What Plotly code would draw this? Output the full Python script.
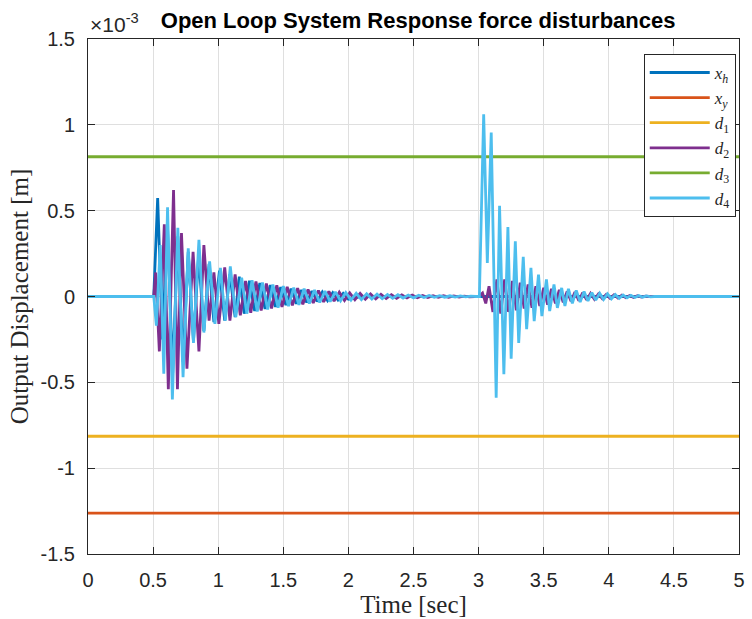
import plotly.graph_objects as go

# ---------------- data (displacement in units of 1e-3 m) ----------------
t_span = [0.0, 5.0]
xy_level = [-1.262, -1.262]
d1_level = [-0.814, -0.814]
d3_level = [0.814, 0.814]

# x_h : extrema
xh_t = [0.0, 0.505, 0.535, 0.572, 0.61, 0.65, 0.69, 0.73, 0.77, 0.81, 0.85, 0.89, 0.93, 0.967,
        1.01, 1.05, 1.09, 1.13, 1.162, 1.20, 1.24, 1.28, 1.32, 1.36, 1.40, 1.44, 1.48, 1.52,
        1.56, 1.60, 1.64, 1.68, 1.72, 1.76, 1.80, 1.84, 1.88, 1.92, 1.96, 2.00, 2.1, 2.3, 5.0]
xh_v = [0.0, 0.0, 0.574, -0.25, 0.42, -0.45, 0.35, -0.38, 0.26, -0.26, 0.24, -0.20, 0.19, -0.15,
        0.15, -0.14, 0.13, -0.12, 0.116, -0.10, 0.092, -0.085, 0.078, -0.072, 0.066, -0.06, 0.055,
        -0.05, 0.046, -0.042, 0.038, -0.035, 0.032, -0.029, 0.026, -0.024, 0.022, -0.02, 0.018,
        -0.016, 0.0, 0.0, 0.0]

# d_2 : extrema
d2_t = [0.0, 0.505, 0.52, 0.548, 0.586, 0.617, 0.657, 0.687, 0.718, 0.76, 0.807, 0.852, 0.89,
        0.93, 0.967, 1.005, 1.05, 1.09, 1.13, 1.17, 1.21, 1.25, 1.29, 1.33, 1.37, 1.41, 1.45,
        1.49, 1.53, 1.57, 1.61, 1.65, 1.69, 1.73, 1.77, 1.81, 1.85, 1.89, 1.93, 1.97, 2.01,
        2.05, 2.09, 2.13, 2.17, 2.21, 2.25, 2.29, 2.33, 2.37, 2.41, 2.45, 2.49, 2.53, 2.57,
        2.61, 2.65, 2.69, 2.73, 2.77, 2.81, 2.85, 2.89, 2.93, 2.97,
        3.00, 3.03, 3.055, 3.08, 3.11, 3.14, 3.17, 3.20, 3.23, 3.26, 3.29, 3.32, 3.35, 3.38,
        3.41, 3.44, 3.47, 3.50, 3.53, 3.56, 3.59, 3.62, 3.65, 3.68, 3.71, 3.74, 3.77, 3.80,
        3.83, 3.86, 3.89, 3.92, 3.95, 3.98, 4.01, 4.04, 4.07, 4.10, 4.13, 4.16, 4.19, 4.22,
        4.25, 4.28, 4.31, 5.0]
d2_v = [0.0, 0.0, 0.14, -0.32, 0.42, -0.54, 0.62, -0.54, 0.37, -0.42, 0.26, -0.32, 0.30,
        -0.14, 0.14, -0.16, 0.17, -0.14, 0.128, -0.11, 0.09, -0.095, 0.088, -0.082, 0.076,
        -0.07, 0.065, -0.06, 0.056, -0.052, 0.048, -0.045, 0.041, -0.038, 0.035, -0.032, 0.03,
        -0.027, 0.025, -0.023, 0.021, -0.019, 0.018, -0.016, 0.015, -0.014, 0.013, -0.012,
        0.011, -0.010, 0.009, -0.008, 0.008, -0.007, 0.006, -0.006, 0.005, -0.005, 0.004,
        -0.004, 0.003, -0.003, 0.002, -0.002, 0.0,
        0.0, 0.02, -0.04, 0.06, -0.09, 0.10, -0.10, 0.10, -0.09, 0.09, -0.08, 0.08, -0.07,
        0.07, -0.065, 0.06, -0.055, 0.05, -0.048, 0.045, -0.04, 0.038, -0.034, 0.03, -0.028,
        0.026, -0.024, 0.022, -0.02, 0.018, -0.016, 0.015, -0.013, 0.012, -0.011, 0.01,
        -0.009, 0.008, -0.007, 0.006, -0.005, 0.004, -0.003, 0.002, 0.0, 0.0]

# d_4 : extrema
d4_t = [0.0, 0.505, 0.525, 0.555, 0.582, 0.611, 0.648, 0.69, 0.73, 0.77, 0.81, 0.852, 0.89,
        0.934, 0.975, 1.017, 1.055, 1.093, 1.135, 1.18, 1.22, 1.26, 1.30, 1.34, 1.38, 1.42,
        1.46, 1.50, 1.54, 1.58, 1.62, 1.66, 1.70, 1.74, 1.78, 1.82, 1.86, 1.90, 1.94, 1.98,
        2.02, 2.06, 2.10, 2.14, 2.18, 2.22, 2.26, 2.30, 2.34, 2.38, 2.42, 2.46, 2.50, 2.54,
        2.58, 2.62, 2.66, 2.70, 2.74, 2.78, 2.82, 2.86, 2.90, 2.94, 2.98,
        3.006, 3.039, 3.067, 3.097, 3.135, 3.161, 3.194, 3.225, 3.250, 3.282, 3.308, 3.343,
        3.369, 3.402, 3.427, 3.460, 3.486, 3.521, 3.546, 3.579, 3.605, 3.638, 3.663, 3.69,
        3.72, 3.75, 3.78, 3.81, 3.84, 3.87, 3.90, 3.93, 3.96, 3.99, 4.02, 4.05, 4.08, 4.11,
        4.14, 4.17, 4.20, 4.23, 4.26, 4.29, 4.32, 4.35, 5.0]
d4_v = [0.0, 0.0, -0.17, 0.30, -0.45, 0.52, -0.60, 0.40, -0.47, 0.28, -0.27, 0.33, -0.21,
        0.205, -0.16, 0.167, -0.14, 0.176, -0.12, 0.11, -0.10, 0.095, -0.088, 0.082, -0.076,
        0.07, -0.065, 0.06, -0.056, 0.052, -0.048, 0.045, -0.041, 0.038, -0.035, 0.032, -0.03,
        0.027, -0.025, 0.023, -0.021, 0.019, -0.018, 0.016, -0.015, 0.014, -0.013, 0.012,
        -0.011, 0.010, -0.009, 0.008, -0.008, 0.007, -0.006, 0.006, -0.005, 0.005, -0.004,
        0.004, -0.003, 0.003, -0.002, 0.002, 0.0,
        0.0, 1.062, 0.196, 0.955, -0.589, 0.529, -0.453, 0.405, -0.362, 0.322, -0.27, 0.231,
        -0.19, 0.167, -0.143, 0.128, -0.114, 0.099, -0.085, 0.07, -0.066, 0.05, -0.055, 0.045,
        -0.04, 0.036, -0.032, 0.029, -0.026, 0.023, -0.021, 0.019, -0.017, 0.015, -0.013,
        0.012, -0.011, 0.009, -0.008, 0.007, -0.006, 0.005, -0.004, 0.003, -0.002, 0.0, 0.0]

x_ticks = [0, 0.5, 1, 1.5, 2, 2.5, 3, 3.5, 4, 4.5, 5]
x_ticktext = ["0", "0.5", "1", "1.5", "2", "2.5", "3", "3.5", "4", "4.5", "5"]
y_ticks = [-1.5, -1, -0.5, 0, 0.5, 1, 1.5]
y_ticktext = ["-1.5", "-1", "-0.5", "0", "0.5", "1", "1.5"]

# ---------------- figure ----------------
C = dict(xh="#0072BD", xy="#D95319", d1="#EDB120", d2="#7E2F8E", d3="#77AC30", d4="#4DBEEE")
LW = 2.8

fig = go.Figure()
fig.add_trace(go.Scatter(x=xh_t, y=xh_v, mode="lines", name="<i>x<sub>h</sub></i>",
                         line=dict(color=C["xh"], width=LW)))
fig.add_trace(go.Scatter(x=t_span, y=xy_level, mode="lines", name="<i>x<sub>y</sub></i>",
                         line=dict(color=C["xy"], width=LW)))
fig.add_trace(go.Scatter(x=t_span, y=d1_level, mode="lines", name="<i>d</i><sub>1</sub>",
                         line=dict(color=C["d1"], width=LW)))
fig.add_trace(go.Scatter(x=d2_t, y=d2_v, mode="lines", name="<i>d</i><sub>2</sub>",
                         line=dict(color=C["d2"], width=LW)))
fig.add_trace(go.Scatter(x=t_span, y=d3_level, mode="lines", name="<i>d</i><sub>3</sub>",
                         line=dict(color=C["d3"], width=LW)))
fig.add_trace(go.Scatter(x=d4_t, y=d4_v, mode="lines", name="<i>d</i><sub>4</sub>",
                         line=dict(color=C["d4"], width=LW)))

axis_common = dict(
    showline=True, linecolor="#262626", linewidth=1, mirror="ticks",
    ticks="inside", ticklen=7, tickcolor="#262626", tickwidth=1,
    showgrid=True, gridcolor="#dfdfdf", gridwidth=1, zeroline=False,
    tickfont=dict(family="Liberation Sans, Arial, sans-serif", size=20, color="#262626"),
)

fig.update_layout(
    width=752, height=619,
    margin=dict(l=88, r=7, t=39, b=64),
    paper_bgcolor="white", plot_bgcolor="white",
    title=dict(text="<b>Open Loop System Response force disturbances</b>",
               font=dict(family="Liberation Sans, Arial, sans-serif", size=22, color="#000000"),
               x=0.556, xanchor="center", y=0.968, yanchor="middle"),
    xaxis=dict(range=[0, 5], tickvals=x_ticks, ticktext=x_ticktext, ticklabelstandoff=8,
               title=dict(text="Time [sec]", standoff=3,
                          font=dict(family="Liberation Serif, Times New Roman, serif", size=25,
                                    color="#262626")),
               **axis_common),
    yaxis=dict(range=[-1.5, 1.5], tickvals=y_ticks, ticktext=y_ticktext, ticklabelstandoff=8,
               title=dict(text="Output Displacement [m]", standoff=4,
                          font=dict(family="Liberation Serif, Times New Roman, serif", size=25,
                                    color="#262626")),
               **axis_common),
    legend=dict(x=0.995, xanchor="right", y=0.971, yanchor="top",
                bgcolor="white", bordercolor="#262626", borderwidth=1,
                itemwidth=60,
                font=dict(family="Liberation Serif, Times New Roman, serif", size=17,
                          color="#262626"),
                tracegroupgap=0),
    showlegend=True,
    annotations=[dict(text="×10<sup>-3</sup>", xref="paper", yref="paper", x=0.0, y=1.0,
                      xanchor="left", yanchor="bottom", showarrow=False, yshift=1,
                      font=dict(family="Liberation Sans, Arial, sans-serif", size=21,
                                color="#262626"))],
)

fig.write_html("out.html")
